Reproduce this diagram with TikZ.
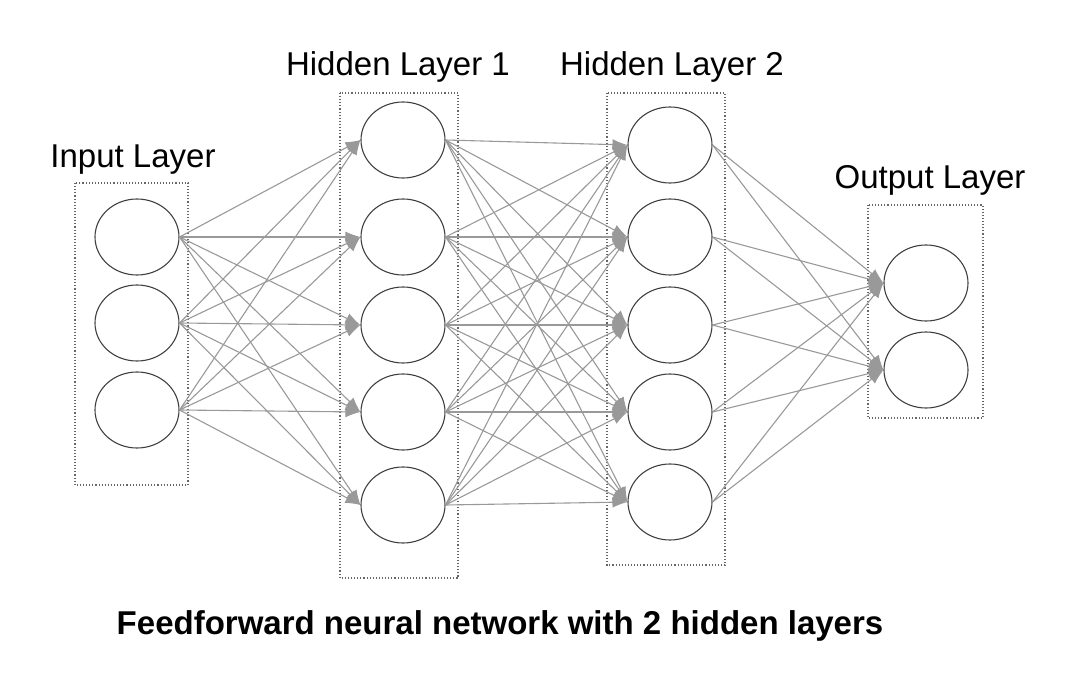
\documentclass[tikz,border=0pt]{standalone}
\usepackage{fontspec}
\setmainfont{Liberation Sans}
\usetikzlibrary{shapes.geometric,arrows.meta}
\definecolor{dialinecolor}{rgb}{0.600000, 0.600000, 0.600000}
\definecolor{boxcolor}{rgb}{0.400000, 0.400000, 0.400000}
\tikzset{
  neuron/.style={ellipse,draw=black!75,line width=1.1pt,minimum width=84pt,minimum height=76pt,inner sep=0pt},
  layerbox/.style={draw=boxcolor,dotted,line width=1.1pt},
  layerlabel/.style={font=\fontsize{33}{36}\selectfont},
  conn/.style={draw=dialinecolor,line width=1.1pt,-{Latex[length=15pt,width=11pt]}}
}
\begin{document}
\begin{tikzpicture}[x=1pt,y=-1pt]
\useasboundingbox (0,0) rectangle (1077,693);
% dotted layer boxes
\draw[layerbox] (75,183) rectangle (188,485);
\draw[layerbox] (340,93) rectangle (458,578);
\draw[layerbox] (607,93) rectangle (725,565);
\draw[layerbox] (868,205) rectangle (983,418);
% neurons
\foreach \y [count=\i] in {237,323,410} \node[neuron] (in\i) at (137,\y) {};
\foreach \y [count=\i] in {140,237,325,412,505} \node[neuron] (ha\i) at (403,\y) {};
\foreach \y [count=\i] in {145,237,325,412,502} \node[neuron] (hb\i) at (670,\y) {};
\foreach \y [count=\i] in {283,370} \node[neuron] (out\i) at (926,\y) {};
% connections
\foreach \i in {1,...,3} \foreach \j in {1,...,5} \draw[conn] (in\i.east) -- (ha\j.west);
\foreach \i in {1,...,5} \foreach \j in {1,...,5} \draw[conn] (ha\i.east) -- (hb\j.west);
\foreach \i in {1,...,5} \foreach \j in {1,...,2} \draw[conn] (hb\i.east) -- (out\j.west);
% labels
\node[layerlabel] (lin) at (133,160) {Input Layer};
\node[layerlabel] (lha) at (398,67) {Hidden Layer 1};
\node[layerlabel] (lhb) at (672,67) {Hidden Layer 2};
\node[layerlabel] (lout) at (930,180) {Output Layer};
\node[font=\bfseries\fontsize{33}{38}\selectfont] (title) at (500,626) {Feedforward neural network with 2 hidden layers};
\end{tikzpicture}
\end{document}
